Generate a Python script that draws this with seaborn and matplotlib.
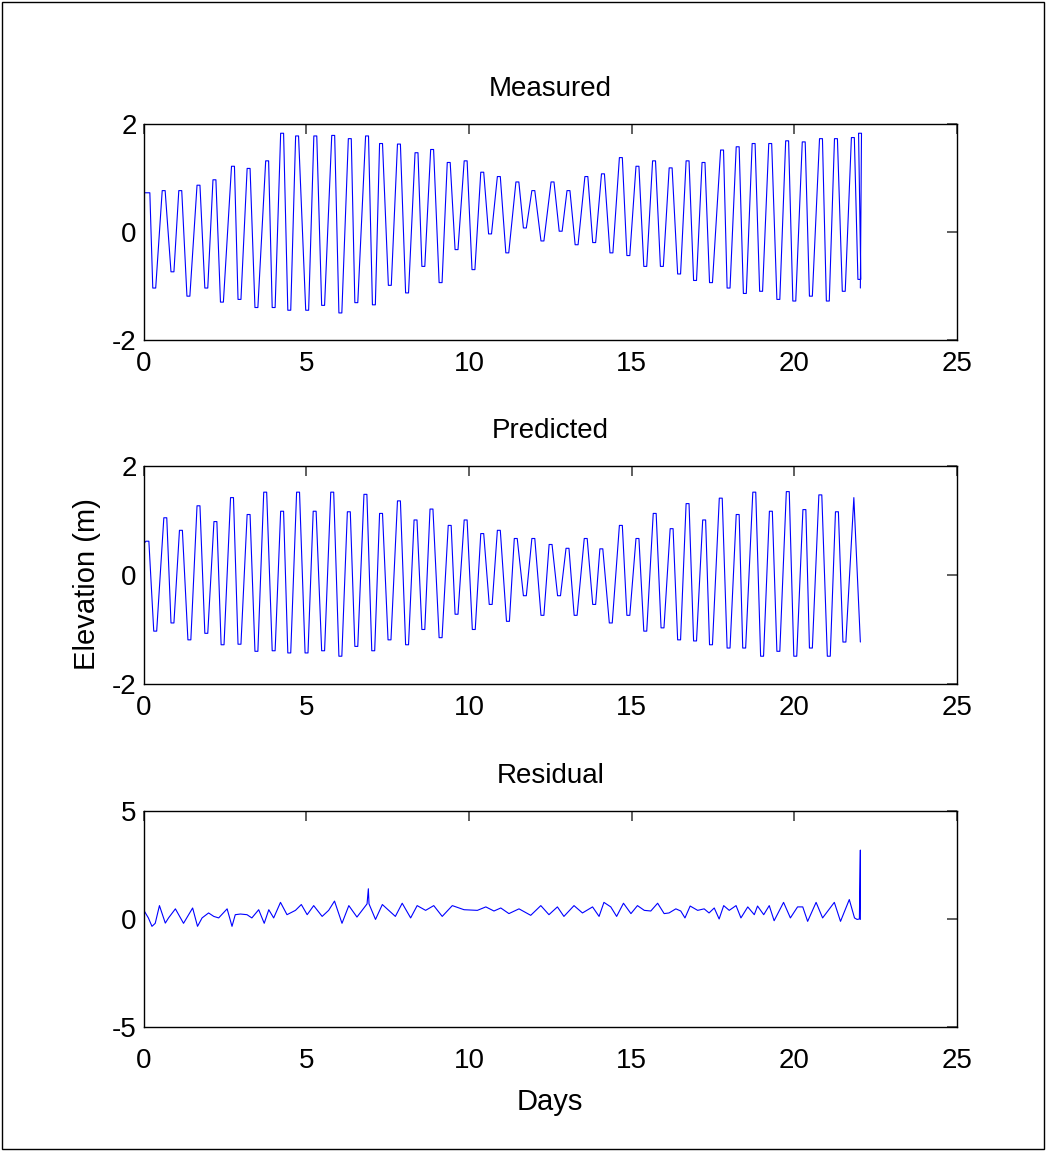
import matplotlib
matplotlib.use("Agg")
import matplotlib.pyplot as plt
from matplotlib.patches import Rectangle
import numpy as np
import pandas as pd
import seaborn as sns

# Tidal elevation record: alternating high / low water, time in days
meas_days = [0.00, 0.15, 0.33, 0.62, 0.89, 1.13, 1.38, 1.69, 1.93, 2.18, 2.41, 2.75, 2.95, 3.23,
             3.47, 3.80, 4.00, 4.26, 4.48, 4.72, 5.03, 5.28, 5.52, 5.83, 6.05, 6.34, 6.54, 6.87,
             7.08, 7.30, 7.57, 7.85, 8.10, 8.39, 8.60, 8.87, 9.13, 9.38, 9.62, 9.90, 10.14, 10.41,
             10.65, 10.92, 11.18, 11.49, 11.72, 11.98, 12.26, 12.57, 12.82, 13.06, 13.31, 13.61,
             13.85, 14.12, 14.38, 14.67, 14.90, 15.18, 15.42, 15.69, 15.93, 16.20, 16.46, 16.72,
             16.95, 17.21, 17.44, 17.78, 17.98, 18.26, 18.48, 18.75, 18.98, 19.26, 19.51, 19.78,
             20.00, 20.29, 20.51, 20.82, 21.03, 21.28, 21.52, 21.80, 22.00, 22.02, 22.03]
meas_vals = [0.72, 0.72, -1.04, 0.76, -0.74, 0.76, -1.19, 0.86, -1.04, 0.96, -1.30, 1.21, -1.25, 1.17,
             -1.40, 1.31, -1.40, 1.82, -1.45, 1.77, -1.45, 1.77, -1.36, 1.78, -1.50, 1.72, -1.31, 1.77,
             -1.35, 1.63, -0.99, 1.62, -1.13, 1.46, -0.64, 1.52, -0.94, 1.28, -0.33, 1.31, -0.70, 1.10,
             -0.04, 1.02, -0.39, 0.92, 0.07, 0.76, -0.17, 0.92, 0.01, 0.76, -0.24, 1.02,
             -0.20, 1.07, -0.39, 1.37, -0.44, 1.21, -0.64, 1.31, -0.64, 1.18, -0.78, 1.31,
             -0.90, 1.28, -0.94, 1.51, -1.04, 1.57, -1.14, 1.63, -1.10, 1.63, -1.25, 1.68,
             -1.28, 1.66, -1.19, 1.72, -1.28, 1.72, -1.10, 1.74, -0.88, 1.82, -1.04]

pred_days = [0.00, 0.12, 0.36, 0.67, 0.89, 1.15, 1.41, 1.69, 1.93, 2.21, 2.43, 2.72, 2.95, 3.23,
             3.47, 3.74, 4.00, 4.26, 4.48, 4.75, 5.01, 5.26, 5.52, 5.80, 6.05, 6.31, 6.54, 6.82,
             7.06, 7.30, 7.56, 7.85, 8.10, 8.36, 8.60, 8.85, 9.13, 9.41, 9.62, 9.90, 10.15, 10.41,
             10.67, 10.92, 11.20, 11.44, 11.72, 11.98, 12.26, 12.51, 12.77, 13.03, 13.28, 13.59,
             13.85, 14.07, 14.36, 14.67, 14.90, 15.18, 15.42, 15.71, 15.95, 16.23, 16.46, 16.72,
             16.95, 17.23, 17.44, 17.74, 17.98, 18.26, 18.46, 18.77, 19.01, 19.28, 19.51, 19.80,
             20.03, 20.31, 20.51, 20.80, 21.06, 21.31, 21.54, 21.83, 22.03]
pred_vals = [0.57, 0.62, -1.03, 1.05, -0.88, 0.82, -1.19, 1.27, -1.07, 0.98, -1.28, 1.42, -1.27, 1.11,
             -1.40, 1.52, -1.39, 1.17, -1.43, 1.52, -1.43, 1.17, -1.39, 1.52, -1.49, 1.16, -1.31, 1.48,
             -1.39, 1.13, -1.19, 1.36, -1.28, 1.01, -1.00, 1.21, -1.15, 0.91, -0.72, 1.01, -1.00, 0.76,
             -0.54, 0.82, -0.85, 0.67, -0.38, 0.67, -0.74, 0.56, -0.38, 0.49, -0.74, 0.67,
             -0.54, 0.48, -0.88, 0.91, -0.74, 0.67, -1.03, 1.13, -0.97, 0.85, -1.19, 1.31,
             -1.21, 1.01, -1.28, 1.41, -1.34, 1.11, -1.34, 1.52, -1.49, 1.17, -1.40, 1.53,
             -1.49, 1.20, -1.34, 1.47, -1.49, 1.16, -1.23, 1.42, -1.23]

res_days = [0.00, 0.15, 0.26, 0.36, 0.49, 0.67, 0.77, 0.98, 1.23, 1.51, 1.66, 1.80, 2.00, 2.16,
            2.31, 2.57, 2.72, 2.82, 2.98, 3.18, 3.33, 3.54, 3.71, 3.85, 4.00, 4.21, 4.41, 4.67,
            4.85, 5.03, 5.23, 5.49, 5.69, 5.87, 6.10, 6.31, 6.56, 6.87, 6.91, 6.93, 7.13, 7.34,
            7.74, 7.95, 8.21, 8.41, 8.67, 8.92, 9.18, 9.49, 9.85, 10.26, 10.52, 10.77, 10.98,
            11.23, 11.54, 11.90, 12.21, 12.46, 12.72, 12.92, 13.23, 13.49, 13.80, 14.00, 14.15,
            14.36, 14.54, 14.75, 14.98, 15.18, 15.39, 15.59, 15.80, 16.00, 16.15, 16.36, 16.51,
            16.64, 16.80, 17.03, 17.23, 17.38, 17.54, 17.69, 17.83, 18.00, 18.21, 18.36, 18.57,
            18.77, 18.87, 19.06, 19.23, 19.38, 19.67, 19.88, 20.10, 20.26, 20.41, 20.67, 20.87,
            21.23, 21.42, 21.69, 21.85, 21.93, 22.00, 22.03, 22.03]
res_vals = [0.43, 0.05, -0.34, -0.20, 0.62, -0.19, 0.05, 0.47, -0.20, 0.51, -0.34, 0.05, 0.28, 0.12,
            0.05, 0.47, -0.34, 0.20, 0.23, 0.20, 0.05, 0.43, -0.20, 0.43, 0.05, 0.77, 0.20, 0.40,
            0.67, 0.20, 0.62, 0.12, 0.40, 0.83, -0.20, 0.62, 0.09, 0.70, 1.40, 0.70, -0.02, 0.67,
            0.12, 0.73, 0.05, 0.62, 0.40, 0.62, 0.12, 0.62, 0.43, 0.40, 0.56, 0.37, 0.51,
            0.25, 0.47, 0.17, 0.62, 0.20, 0.56, 0.12, 0.62, 0.28, 0.56, 0.12, 0.77,
            0.56, 0.12, 0.73, 0.25, 0.62, 0.40, 0.37, 0.73, 0.25, 0.28, 0.47, 0.37,
            0.05, 0.60, 0.40, 0.47, 0.28, 0.51, 0.00, 0.62, 0.40, 0.62, 0.05, 0.56,
            0.20, 0.60, 0.20, 0.62, -0.08, 0.77, 0.05, 0.56, 0.56, -0.11, 0.77, 0.05,
            0.77, -0.11, 0.90, 0.05, -0.02, 0.00, 3.19, -0.02]

titles = ["Measured", "Predicted", "Residual"]
x_ticks = [0, 5, 10, 15, 20, 25]
y_ticks = [[-2, 0, 2], [-2, 0, 2], [-5, 0, 5]]
y_limits = [(-2, 2), (-2, 2), (-5, 5)]

# half-width (days) of the slack water held at each high / low
STAND = 0.045


def with_stand(days, vals):
    """Hold each interior high / low water for a short slack period."""
    t_out, v_out = [days[0]], [vals[0]]
    for t, v in zip(days[1:-1], vals[1:-1]):
        t_out += [t - STAND, t + STAND]
        v_out += [v, v]
    t_out.append(days[-1])
    v_out.append(vals[-1])
    return t_out, v_out


sns.set_style("white")
plt.rcParams["font.family"] = ["Liberation Sans", "DejaVu Sans"]
plt.rcParams["axes.unicode_minus"] = False
for key in ["text.color", "axes.labelcolor", "xtick.labelcolor", "ytick.labelcolor"]:
    plt.rcParams[key] = "black"

W, H = 1046, 1151
fig = plt.figure(figsize=(W / 100, H / 100), dpi=100)
fig.patch.set_facecolor("white")

# axes boxes in pixels: (left, top, right, bottom)
boxes = [(143.5, 123.5, 957, 340), (143.5, 466, 957, 684), (143.5, 811, 957, 1027)]
mt, mv = with_stand(meas_days, meas_vals)
pt, pv = with_stand(pred_days[:-1], pred_vals[:-1])
pt.append(pred_days[-1])
pv.append(pred_vals[-1])
frames = [
    pd.DataFrame({"day": mt, "elev": mv}),
    pd.DataFrame({"day": pt, "elev": pv}),
    pd.DataFrame({"day": res_days, "elev": res_vals}),
]
xpads = [8, 8, 15]

axes = []
for i, (l, t, r, b) in enumerate(boxes):
    ax = fig.add_axes([l / W, 1 - b / H, (r - l) / W, (b - t) / H])
    sns.lineplot(data=frames[i], x="day", y="elev", ax=ax, color="#0000ff",
                 linewidth=0.8, estimator=None, sort=False)
    ax.set_xlim(0, 25)
    ax.set_ylim(*y_limits[i])
    ax.set_xticks(x_ticks)
    ax.set_yticks(y_ticks[i])
    ax.set_xlabel("")
    ax.set_ylabel("")
    ax.set_title(titles[i], fontsize=20, pad=20, color="black")
    ax.tick_params(direction="in", length=7, width=1.2, color="#444444",
                   top=True, right=True, labelsize=20)
    ax.tick_params(axis="x", pad=xpads[i])
    ax.tick_params(axis="y", pad=5)
    for sp in ax.spines.values():
        sp.set_visible(True)
        sp.set_color("black")
        sp.set_linewidth(1.0)
    axes.append(ax)

axes[1].set_ylabel("Elevation (m)", fontsize=21)
axes[1].yaxis.set_label_coords(-0.052, 0.46)
axes[2].set_xlabel("Days", fontsize=21, labelpad=10)

# thin frame round the whole figure
fig.add_artist(Rectangle((2 / W, 2 / H), (W - 4) / W, (H - 4) / H, transform=fig.transFigure,
                         fill=False, edgecolor="black", linewidth=1.0))

fig.savefig("out.png", dpi=100, facecolor="white")
